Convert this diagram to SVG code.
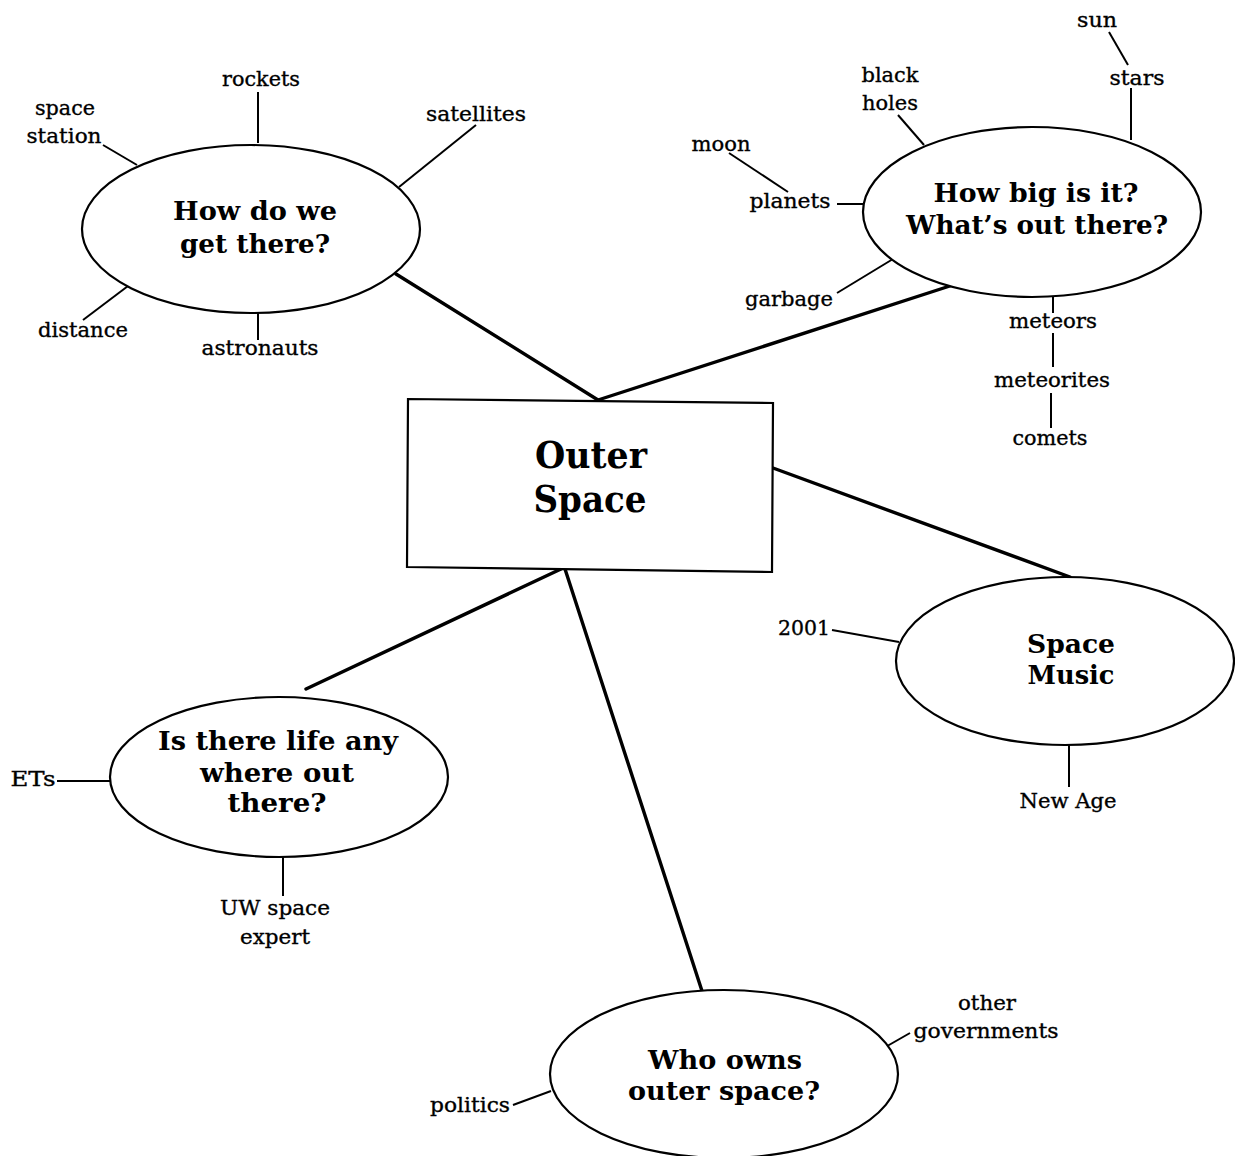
<svg xmlns="http://www.w3.org/2000/svg" width="1235" height="1156" viewBox="0 0 1235 1156">
<style>
.bg{fill:#ffffff}
.node{fill:#ffffff;stroke:#000;stroke-width:2.2}
.main{stroke:#000;stroke-width:3.4;fill:none;stroke-linecap:round}
.spoke{stroke:#000;stroke-width:2;fill:none}
.head{font-family:"DejaVu Serif","Liberation Serif",serif;font-weight:bold;font-size:26px;fill:#000;text-anchor:middle}
.title{font-family:"DejaVu Serif","Liberation Serif",serif;font-weight:bold;font-size:37px;fill:#000;text-anchor:middle}
.lbl{font-family:"DejaVu Serif","Liberation Serif",serif;font-size:21px;fill:#000;stroke:#000;stroke-width:0.35;text-anchor:middle}
</style>
<rect class="bg" x="0" y="0" width="1235" height="1156"/>

<g id="connectors">
  <line class="main" x1="396" y1="274" x2="598" y2="400"/>
  <line class="main" x1="956" y1="284" x2="598" y2="400"/>
  <line class="main" x1="773" y1="468" x2="1070" y2="577"/>
  <line class="main" x1="561" y1="569" x2="306" y2="689"/>
  <line class="main" x1="565" y1="569" x2="702" y2="991"/>
  <!-- spokes node 1 -->
  <line class="spoke" x1="258" y1="92" x2="258" y2="143"/>
  <line class="spoke" x1="103" y1="145" x2="137" y2="165"/>
  <line class="spoke" x1="476" y1="125" x2="399" y2="187"/>
  <line class="spoke" x1="83" y1="320" x2="128" y2="286"/>
  <line class="spoke" x1="258" y1="311" x2="258" y2="340"/>
  <!-- spokes node 2 -->
  <line class="spoke" x1="1109" y1="32" x2="1128" y2="65"/>
  <line class="spoke" x1="1131" y1="88" x2="1131" y2="140"/>
  <line class="spoke" x1="898" y1="115" x2="924" y2="145"/>
  <line class="spoke" x1="729" y1="153" x2="788" y2="192"/>
  <line class="spoke" x1="837" y1="204" x2="864" y2="204"/>
  <line class="spoke" x1="837" y1="293" x2="893" y2="259"/>
  <line class="spoke" x1="1053" y1="297" x2="1053" y2="313"/>
  <line class="spoke" x1="1053" y1="333" x2="1053" y2="367"/>
  <line class="spoke" x1="1051" y1="393" x2="1051" y2="428"/>
  <!-- spokes node 3 -->
  <line class="spoke" x1="832" y1="630" x2="899" y2="642"/>
  <line class="spoke" x1="1069" y1="745" x2="1069" y2="787"/>
  <!-- spokes node 4 -->
  <line class="spoke" x1="57" y1="781" x2="110" y2="781"/>
  <line class="spoke" x1="283" y1="857" x2="283" y2="896"/>
  <!-- spokes node 5 -->
  <line class="spoke" x1="513" y1="1105" x2="551" y2="1091"/>
  <line class="spoke" x1="882" y1="1049" x2="910" y2="1033"/>
</g>

<g id="node-outer-space">
  <polygon class="node" points="408,399 773,403 772,572 407,567"/>
  <text class="title" x="591" y="468" textLength="112" lengthAdjust="spacingAndGlyphs">Outer</text>
  <text class="title" x="590" y="512" textLength="113" lengthAdjust="spacingAndGlyphs">Space</text>
</g>

<g id="node-get-there">
  <ellipse class="node" cx="251" cy="229" rx="169" ry="84"/>
  <text class="head" x="255" y="220" textLength="164" lengthAdjust="spacingAndGlyphs">How do we</text>
  <text class="head" x="255" y="253" textLength="150" lengthAdjust="spacingAndGlyphs">get there?</text>
</g>
<g id="labels-get-there">
  <text class="lbl" x="261" y="86" textLength="78" lengthAdjust="spacingAndGlyphs">rockets</text>
  <text class="lbl" x="65" y="115" textLength="60" lengthAdjust="spacingAndGlyphs">space</text>
  <text class="lbl" x="64" y="143" textLength="75" lengthAdjust="spacingAndGlyphs">station</text>
  <text class="lbl" x="476" y="121" textLength="100" lengthAdjust="spacingAndGlyphs">satellites</text>
  <text class="lbl" x="83" y="337" textLength="90" lengthAdjust="spacingAndGlyphs">distance</text>
  <text class="lbl" x="260" y="355" textLength="117" lengthAdjust="spacingAndGlyphs">astronauts</text>
</g>

<g id="node-how-big">
  <ellipse class="node" cx="1032" cy="212" rx="169" ry="85"/>
  <text class="head" x="1036" y="202" textLength="205" lengthAdjust="spacingAndGlyphs">How big is it?</text>
  <text class="head" x="1037" y="234" textLength="262" lengthAdjust="spacingAndGlyphs">What’s out there?</text>
</g>
<g id="labels-how-big">
  <text class="lbl" x="1097" y="27" textLength="40" lengthAdjust="spacingAndGlyphs">sun</text>
  <text class="lbl" x="1137" y="85" textLength="55" lengthAdjust="spacingAndGlyphs">stars</text>
  <text class="lbl" x="890" y="82" textLength="57" lengthAdjust="spacingAndGlyphs">black</text>
  <text class="lbl" x="890" y="110" textLength="56" lengthAdjust="spacingAndGlyphs">holes</text>
  <text class="lbl" x="721" y="151" textLength="59" lengthAdjust="spacingAndGlyphs">moon</text>
  <text class="lbl" x="790" y="208" textLength="81" lengthAdjust="spacingAndGlyphs">planets</text>
  <text class="lbl" x="789" y="306" textLength="88" lengthAdjust="spacingAndGlyphs">garbage</text>
  <text class="lbl" x="1053" y="328" textLength="88" lengthAdjust="spacingAndGlyphs">meteors</text>
  <text class="lbl" x="1052" y="387" textLength="116" lengthAdjust="spacingAndGlyphs">meteorites</text>
  <text class="lbl" x="1050" y="445" textLength="75" lengthAdjust="spacingAndGlyphs">comets</text>
</g>

<g id="node-space-music">
  <ellipse class="node" cx="1065" cy="661" rx="169" ry="84"/>
  <text class="head" x="1071" y="653" textLength="88" lengthAdjust="spacingAndGlyphs">Space</text>
  <text class="head" x="1071" y="684" textLength="87" lengthAdjust="spacingAndGlyphs">Music</text>
</g>
<g id="labels-space-music">
  <text class="lbl" x="804" y="635" textLength="52" lengthAdjust="spacingAndGlyphs">2001</text>
  <text class="lbl" x="1068" y="808" textLength="97" lengthAdjust="spacingAndGlyphs">New Age</text>
</g>

<g id="node-life">
  <ellipse class="node" cx="279" cy="777" rx="169" ry="80"/>
  <text class="head" x="278" y="750" textLength="240" lengthAdjust="spacingAndGlyphs">Is there life any</text>
  <text class="head" x="277" y="782" textLength="154" lengthAdjust="spacingAndGlyphs">where out</text>
  <text class="head" x="277" y="812" textLength="99" lengthAdjust="spacingAndGlyphs">there?</text>
</g>
<g id="labels-life">
  <text class="lbl" x="33" y="786" textLength="45" lengthAdjust="spacingAndGlyphs">ETs</text>
  <text class="lbl" x="275" y="915" textLength="110" lengthAdjust="spacingAndGlyphs">UW space</text>
  <text class="lbl" x="275" y="944" textLength="70" lengthAdjust="spacingAndGlyphs">expert</text>
</g>

<g id="node-who-owns">
  <ellipse class="node" cx="724" cy="1074" rx="174" ry="84"/>
  <text class="head" x="725" y="1069" textLength="154" lengthAdjust="spacingAndGlyphs">Who owns</text>
  <text class="head" x="724" y="1100" textLength="192" lengthAdjust="spacingAndGlyphs">outer space?</text>
</g>
<g id="labels-who-owns">
  <text class="lbl" x="470" y="1112" textLength="80" lengthAdjust="spacingAndGlyphs">politics</text>
  <text class="lbl" x="987" y="1010" textLength="58" lengthAdjust="spacingAndGlyphs">other</text>
  <text class="lbl" x="986" y="1038" textLength="145" lengthAdjust="spacingAndGlyphs">governments</text>
</g>
</svg>
